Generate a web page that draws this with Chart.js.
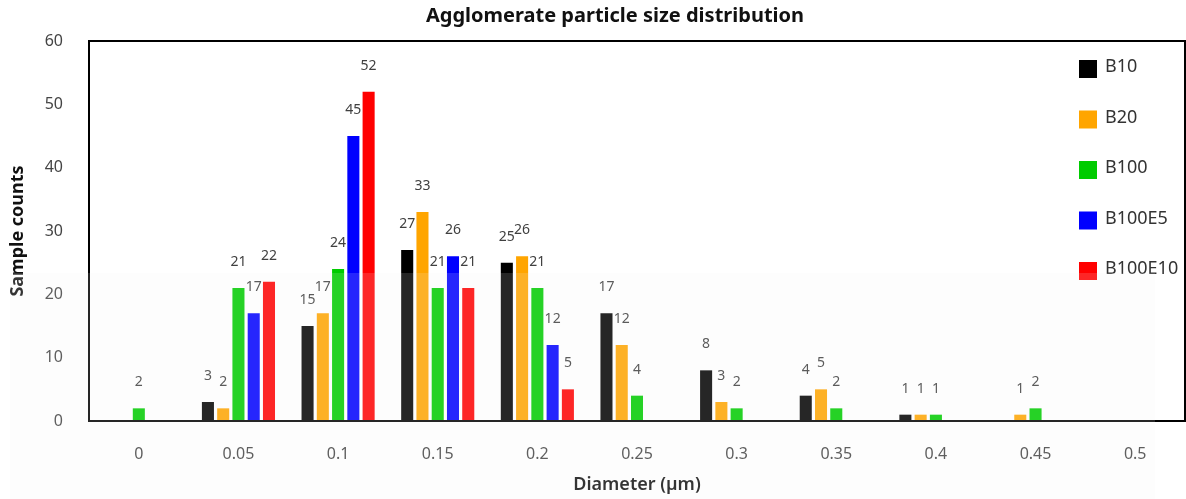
<!DOCTYPE html>
<html><head><meta charset="utf-8">
<script src="https://cdn.jsdelivr.net/npm/chart.js@4.4.1/dist/chart.umd.min.js"></script>
<style>html,body{margin:0;padding:0;background:#fff;} #wrap{width:1186px;height:499px;position:relative;}</style>
</head><body><div id="wrap"><canvas id="c" width="1186" height="499"></canvas></div>
<script>
const categories = ['0','0.05','0.1','0.15','0.2','0.25','0.3','0.35','0.4','0.45','0.5'];
const b10     = [0, 3, 15, 27, 25, 17, 8, 4, 1, 0, 0];
const b20     = [0, 2, 17, 33, 26, 12, 3, 5, 1, 1, 0];
const b100    = [2, 21, 24, 21, 21, 4, 2, 2, 1, 2, 0];
const b100e5  = [0, 17, 45, 26, 12, 0, 0, 0, 0, 0, 0];
const b100e10 = [0, 22, 52, 21, 5, 0, 0, 0, 0, 0, 0];
const seriesNames = ['B10', 'B20', 'B100', 'B100E5', 'B100E10'];
const seriesColors = ['#000000', '#FFA500', '#00CC00', '#0000FF', '#FF0000'];
const yMin = 0, yMax = 60, yStep = 10;
const chartTitle = 'Agglomerate particle size distribution';
const xTitle = 'Diameter (µm)';
const yTitle = 'Sample counts';

const seriesValues = [b10, b20, b100, b100e5, b100e10];
const FONT = '"Noto Sans", "Open Sans", sans-serif';

const framePlugin = {
  id: 'frame',
  afterDatasetsDraw(chart) {
    const {ctx, chartArea: a} = chart;
    ctx.save();
    // data labels
    ctx.font = '14px ' + FONT;
    ctx.fillStyle = '#404040';
    ctx.textAlign = 'center';
    ctx.textBaseline = 'middle';
    chart.data.datasets.forEach((ds, i) => {
      const meta = chart.getDatasetMeta(i);
      meta.data.forEach((el, j) => {
        const v = ds.data[j];
        if (v > 0) ctx.fillText(String(v), el.x, el.y - 26);
      });
    });
    // frame
    ctx.strokeStyle = '#000';
    ctx.lineWidth = 2;
    ctx.strokeRect(a.left, a.top, a.right - a.left, a.bottom - a.top);
    // legend
    ctx.font = '18px ' + FONT;
    ctx.textAlign = 'left';
    chart.data.datasets.forEach((ds, i) => {
      const cy = 69 + i * 50.5;
      ctx.fillStyle = ds.backgroundColor;
      ctx.fillRect(1079, cy - 9, 18, 18);
      ctx.fillStyle = '#333';
      ctx.fillText(ds.label, 1105, cy - 2);
    });
    // title
    ctx.font = 'bold 20px ' + FONT;
    ctx.fillStyle = '#111';
    ctx.textAlign = 'center';
    ctx.fillText(chartTitle, 615, 16);
    ctx.restore();
  },
  afterDraw(chart) {
    const {ctx} = chart;
    ctx.save();
    ctx.fillStyle = 'rgba(242,242,242,0.157)';
    ctx.fillRect(10, 273, 1145, 226);
    ctx.restore();
  }
};

new Chart(document.getElementById('c'), {
  type: 'bar',
  data: {
    labels: categories,
    datasets: seriesValues.map((vals, i) => ({
      label: seriesNames[i],
      data: vals,
      backgroundColor: seriesColors[i],
      borderWidth: 0,
      categoryPercentage: 0.766,
      barPercentage: 0.79
    }))
  },
  options: {
    responsive: false,
    animation: false,
    devicePixelRatio: 1,
    layout: {padding: {left: 0, right: 1, top: 41, bottom: 0}},
    plugins: {
      legend: {display: false},
      title: {display: false},
      tooltip: {enabled: false}
    },
    scales: {
      x: {
        grid: {display: false, drawTicks: false},
        border: {display: false},
        ticks: {font: {family: FONT, size: 16}, color: '#444', padding: 24},
        title: {display: true, text: xTitle, font: {family: FONT, size: 18, weight: '600'}, color: '#111', padding: {top: 0, bottom: 3}},
        afterFit(s) { s.height = 78; }
      },
      y: {
        min: yMin, max: yMax,
        grid: {display: false, drawTicks: false},
        border: {display: false},
        ticks: {stepSize: yStep, font: {family: FONT, size: 16}, color: '#444', padding: 26},
        title: {display: true, text: yTitle, font: {family: FONT, size: 18, weight: 'bold'}, color: '#111', padding: {top: 7, bottom: 0}},
        afterFit(s) { s.width = 89; }
      }
    }
  },
  plugins: [framePlugin]
});
</script>
</body></html>
